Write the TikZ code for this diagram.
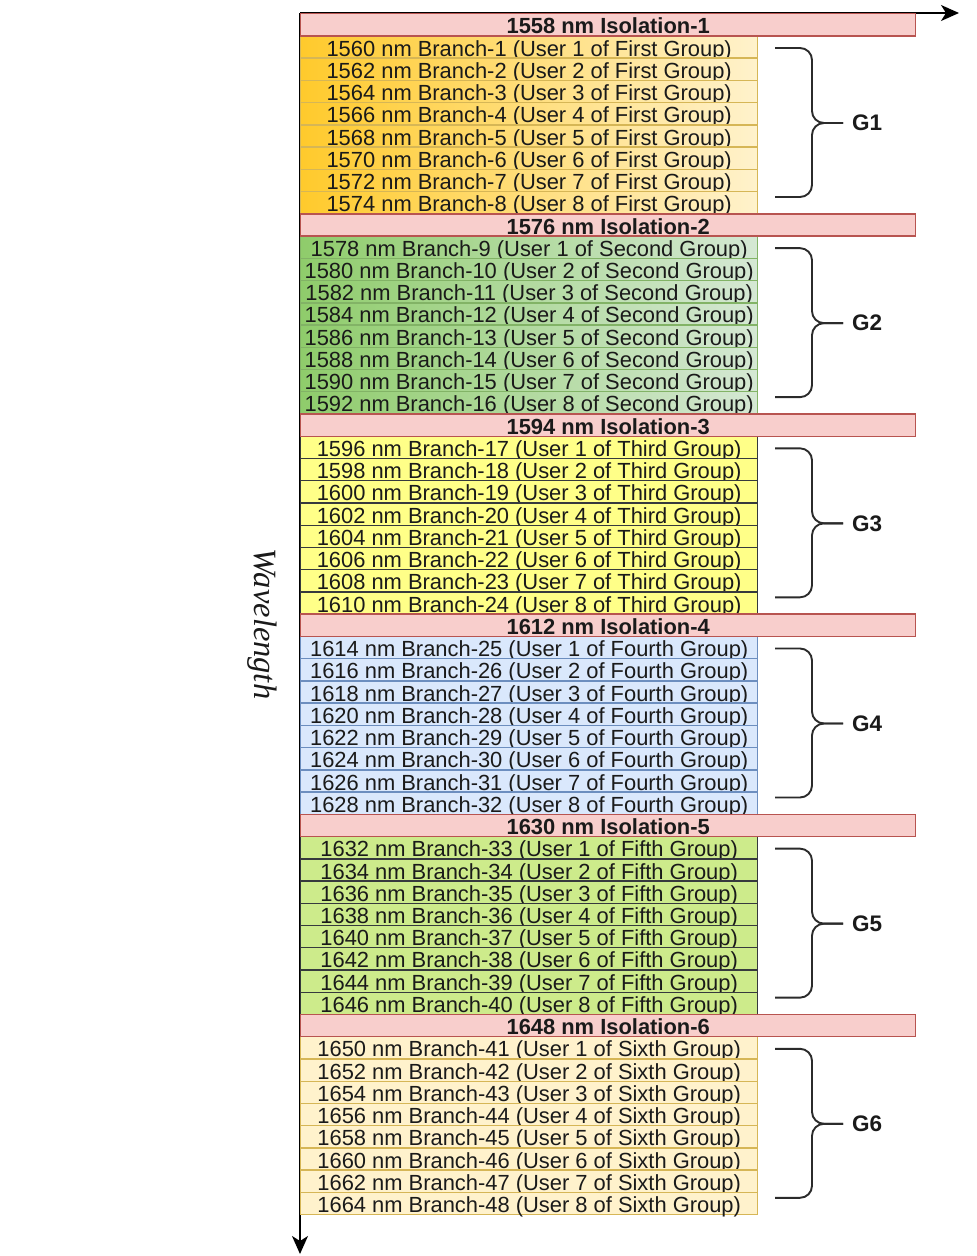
\documentclass[tikz,border=0pt]{standalone}
\usepackage{fontspec}
\setmainfont{Liberation Sans}
\newfontfamily\serifit{Liberation Serif}
\usetikzlibrary{arrows.meta}
\definecolor{isofill}{HTML}{F8CECC}
\definecolor{isodraw}{HTML}{B85450}
\definecolor{txt}{HTML}{1A1A1A}
\definecolor{brc}{HTML}{2B2B2B}
\begin{document}
\begin{tikzpicture}[x=1pt,y=-1pt,
  axis/.style={line width=1.7pt,black,-{Stealth[length=18pt,width=16pt,inset=5pt]}},
  isobox/.style={fill=isofill,draw=isodraw,line width=1.4pt,minimum width=615pt,minimum height=22.24pt,inner sep=0pt,text height=15.7pt,text depth=0pt,anchor=north west,text=txt,font=\fontsize{21.9}{22}\selectfont\bfseries},
  branchbox/.style={line width=1.4pt,minimum width=457pt,minimum height=22.24pt,inner sep=0pt,text height=15.7pt,text depth=0pt,anchor=north west,text=txt,font=\fontsize{21.9}{22}\selectfont},
  bracestyle/.style={draw=brc,line width=1.9pt,rounded corners=12pt},
  glabel/.style={anchor=west,inner sep=0pt,text=txt,font=\fontsize{22.5}{22}\selectfont\bfseries},
]
\useasboundingbox (0,0) rectangle (977,1256);
\fill[white] (0,0) rectangle (977,1256);
% axes
\coordinate (o) at (300,13);
\coordinate (xe) at (959,13);
\coordinate (ye) at (300,1254);
\draw[axis] (o) -- (xe);
\draw[axis] (o) -- (ye);
\node[rotate=-90,text=txt,font=\serifit\itshape\fontsize{32.5}{32}\selectfont] (wl) at (262,624) {Wavelength};
% groups
\foreach \k/\ord/\lc/\rc/\bc in {1/First/FFCA2C/FFF2CC/D6B656,2/Second/8FCC6B/D5E8D4/82B366,3/Third/FFFF88/FFFF88/36393D,4/Fourth/DAE8FC/DAE8FC/6C8EBF,5/Fifth/CDEB8B/CDEB8B/36393D,6/Sixth/FFF2CC/FFF2CC/D6B656}{
  \definecolor{lcol}{HTML}{\lc}
  \definecolor{rcol}{HTML}{\rc}
  \definecolor{bcol}{HTML}{\bc}
  \pgfmathsetmacro\yt{13+200.16*(\k-1)}
  \pgfmathtruncatemacro\iso{1558+18*(\k-1)}
  \foreach \i in {1,...,8}{
    \pgfmathsetmacro\yy{\yt+22.24*\i}
    \pgfmathtruncatemacro\wl{\iso+2*\i}
    \pgfmathtruncatemacro\br{8*(\k-1)+\i}
    \node[branchbox,left color=lcol,right color=rcol,draw=bcol] (b\k-\i) at (300,\yy) {\raisebox{-1.2pt}{\wl\ nm Branch-\br\ (User \i\ of \ord\ Group)}};
  }
  \node[isobox] (iso\k) at (300,\yt) {\raisebox{-1.2pt}{\iso\ nm Isolation-\k}};
  % brace
  \coordinate (bt\k) at (775,\yt+35);
  \coordinate (bb\k) at (775,\yt+184);
  \coordinate (bm\k) at (812,\yt+110);
  \node[glabel] (g\k) at (852,\yt+110) {G\k};
  \draw[bracestyle] (bt\k) -| (bm\k) -- ([xshift=-9pt]g\k.west);
  \draw[bracestyle] (bb\k) -| (bm\k) -- ([xshift=-9pt]g\k.west);
}
\end{tikzpicture}
\end{document}
